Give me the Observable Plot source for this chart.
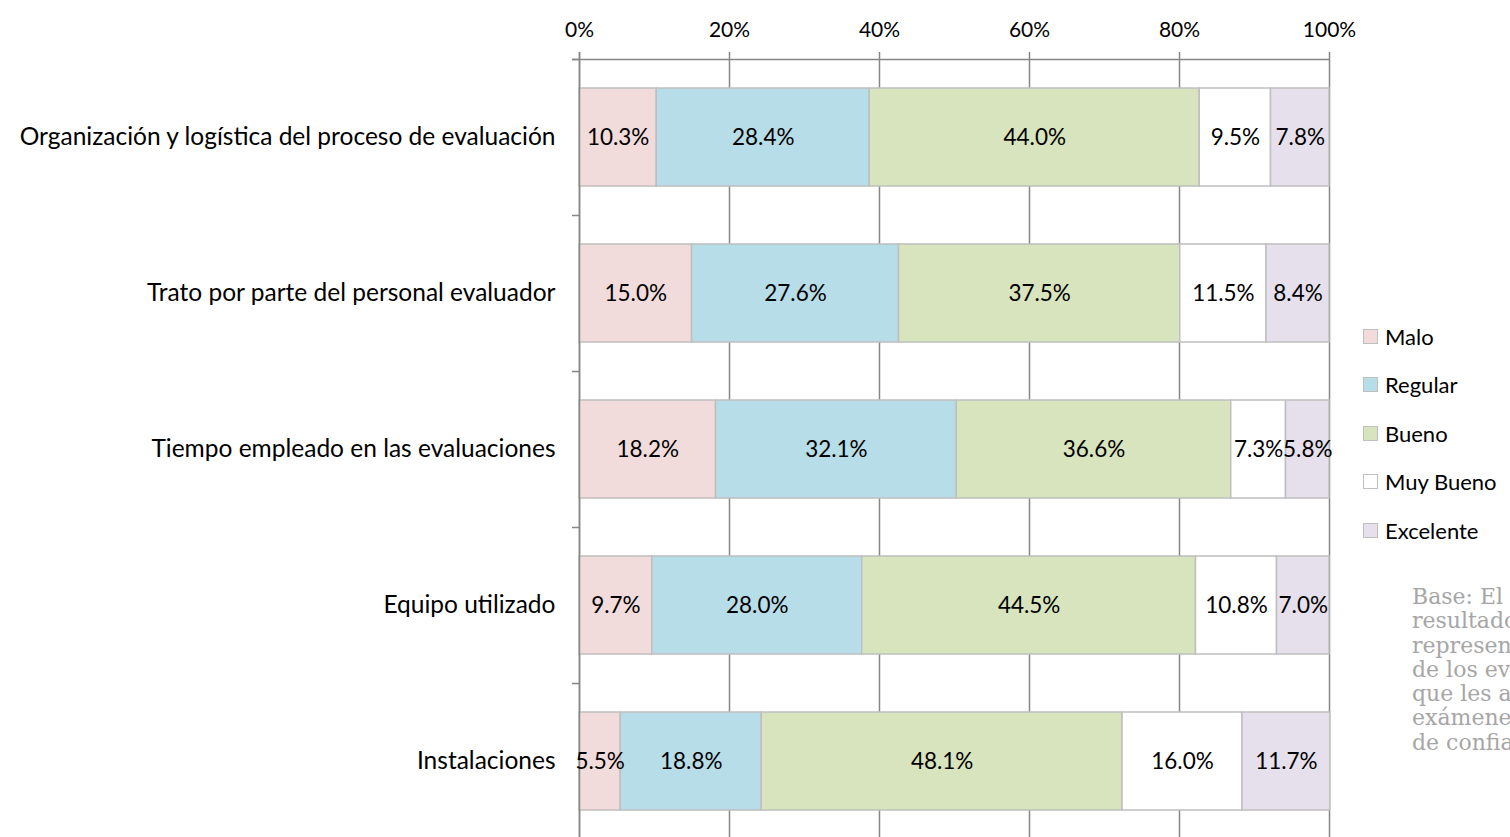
<!DOCTYPE html>
<html>
<head>
<meta charset="utf-8">
<script src="https://cdn.jsdelivr.net/npm/d3@7"></script>
<script src="https://cdn.jsdelivr.net/npm/@observablehq/plot@0.6"></script>
<style>
  html, body { margin: 0; padding: 0; background: #fff; overflow: hidden; }
  #wrap { position: relative; width: 1510px; height: 837px; overflow: hidden; font-family: Lato, "Open Sans", sans-serif; }
  #chart { position: absolute; left: 0; top: 0; }
  #legend { position: absolute; left: 1363px; top: 312px; }
  .li { display: flex; align-items: center; height: 48.5px; font-size: 22px; color: #000; }
  .sw { width: 15px; height: 15px; border: 1.5px solid #bfbfbf; margin-right: 7px; box-sizing: border-box; }
  #caption { position: absolute; left: 1412px; top: 585px; font-family: "DejaVu Serif", serif; font-size: 22px; line-height: 24.3px; color: #a6a6a6; white-space: nowrap; }
</style>
</head>
<body>
<div id="wrap">
  <div id="chart"></div>
  <div id="legend"></div>
  <div id="caption"></div>
</div>
<script>
const categories = [
  "Organización y logística del proceso de evaluación",
  "Trato por parte del personal evaluador",
  "Tiempo empleado en las evaluaciones",
  "Equipo utilizado",
  "Instalaciones"
];
const levels = ["Malo", "Regular", "Bueno", "Muy Bueno", "Excelente"];
const colors = ["#f2dcdb", "#b7dde8", "#d7e4bd", "#ffffff", "#e6e0ec"];
const malo      = [10.3, 15.0, 18.2, 9.7, 5.5];
const regular   = [28.4, 27.6, 32.1, 28.0, 18.8];
const bueno     = [44.0, 37.5, 36.6, 44.5, 48.1];
const muyBueno  = [9.5, 11.5, 7.3, 10.8, 16.0];
const excelente = [7.8, 8.4, 5.8, 7.0, 11.7];
const xTicks = [0, 0.2, 0.4, 0.6, 0.8, 1];
const captionLines = [
  "Base: El total de",
  "resultados",
  "representa el 100%",
  "de los evaluados",
  "que les aplicaron",
  "exámenes de control",
  "de confianza."
];

const series = [malo, regular, bueno, muyBueno, excelente];
const data = [];
categories.forEach((c, ci) => {
  levels.forEach((l, li) => {
    data.push({cat: c, level: l, value: series[li][ci] / 100, label: series[li][ci].toFixed(1) + "%"});
  });
});

const W = 1510, H = 845, mTop = 59, mBottom = 6, mLeft = 579, mRight = 181;
const step = (H - mTop - mBottom) / categories.length;
const barInset = 29;

const chart = Plot.plot({
  width: W,
  height: H,
  marginTop: mTop,
  marginBottom: mBottom,
  marginLeft: mLeft,
  marginRight: mRight,
  style: {fontFamily: "Lato, 'Open Sans', sans-serif", fontSize: "21px", color: "#000", background: "transparent"},
  x: {domain: [0, 1]},
  y: {domain: categories, padding: 0},
  color: {domain: levels, range: colors},
  marks: [
    Plot.ruleX(xTicks, {stroke: "#868686", strokeWidth: 1.5, insetTop: -7}),
    Plot.ruleY(categories, {y: d => d, dy: -step / 2, x1: 0, x2: 0, insetLeft: -7, stroke: "#868686", strokeWidth: 1.5}),
    Plot.ruleY([categories[0]], {y: d => d, dy: -step / 2, x1: 0, x2: 1, insetLeft: -7, stroke: "#868686", strokeWidth: 1.5}),
    Plot.barX(data, {x: "value", y: "cat", fill: "level", z: "level", insetTop: barInset, insetBottom: barInset, stroke: "#bfbfbf", strokeWidth: 1.5}),
    Plot.ruleX([0], {stroke: "#868686", strokeWidth: 1.5, insetTop: -7}),
    Plot.text(data, Plot.stackX({x: "value", y: "cat", z: "level", text: "label", fontSize: 22.5, fill: "#000"})),
    Plot.axisX(xTicks, {anchor: "top", tickSize: 0, tickPadding: 23, fontSize: 21, label: null, tickFormat: d => Math.round(d * 100) + "%"}),
    Plot.axisY({anchor: "left", tickSize: 0, tickPadding: 24, fontSize: 24.5, label: null})
  ]
});
document.getElementById("chart").appendChild(chart);

const legend = document.getElementById("legend");
levels.forEach((l, i) => {
  const row = document.createElement("div");
  row.className = "li";
  const sw = document.createElement("div");
  sw.className = "sw";
  sw.style.background = colors[i];
  const t = document.createElement("span");
  t.textContent = l;
  row.appendChild(sw);
  row.appendChild(t);
  legend.appendChild(row);
});

const cap = document.getElementById("caption");
captionLines.forEach(line => {
  const d = document.createElement("div");
  d.textContent = line;
  cap.appendChild(d);
});
</script>
</body>
</html>
